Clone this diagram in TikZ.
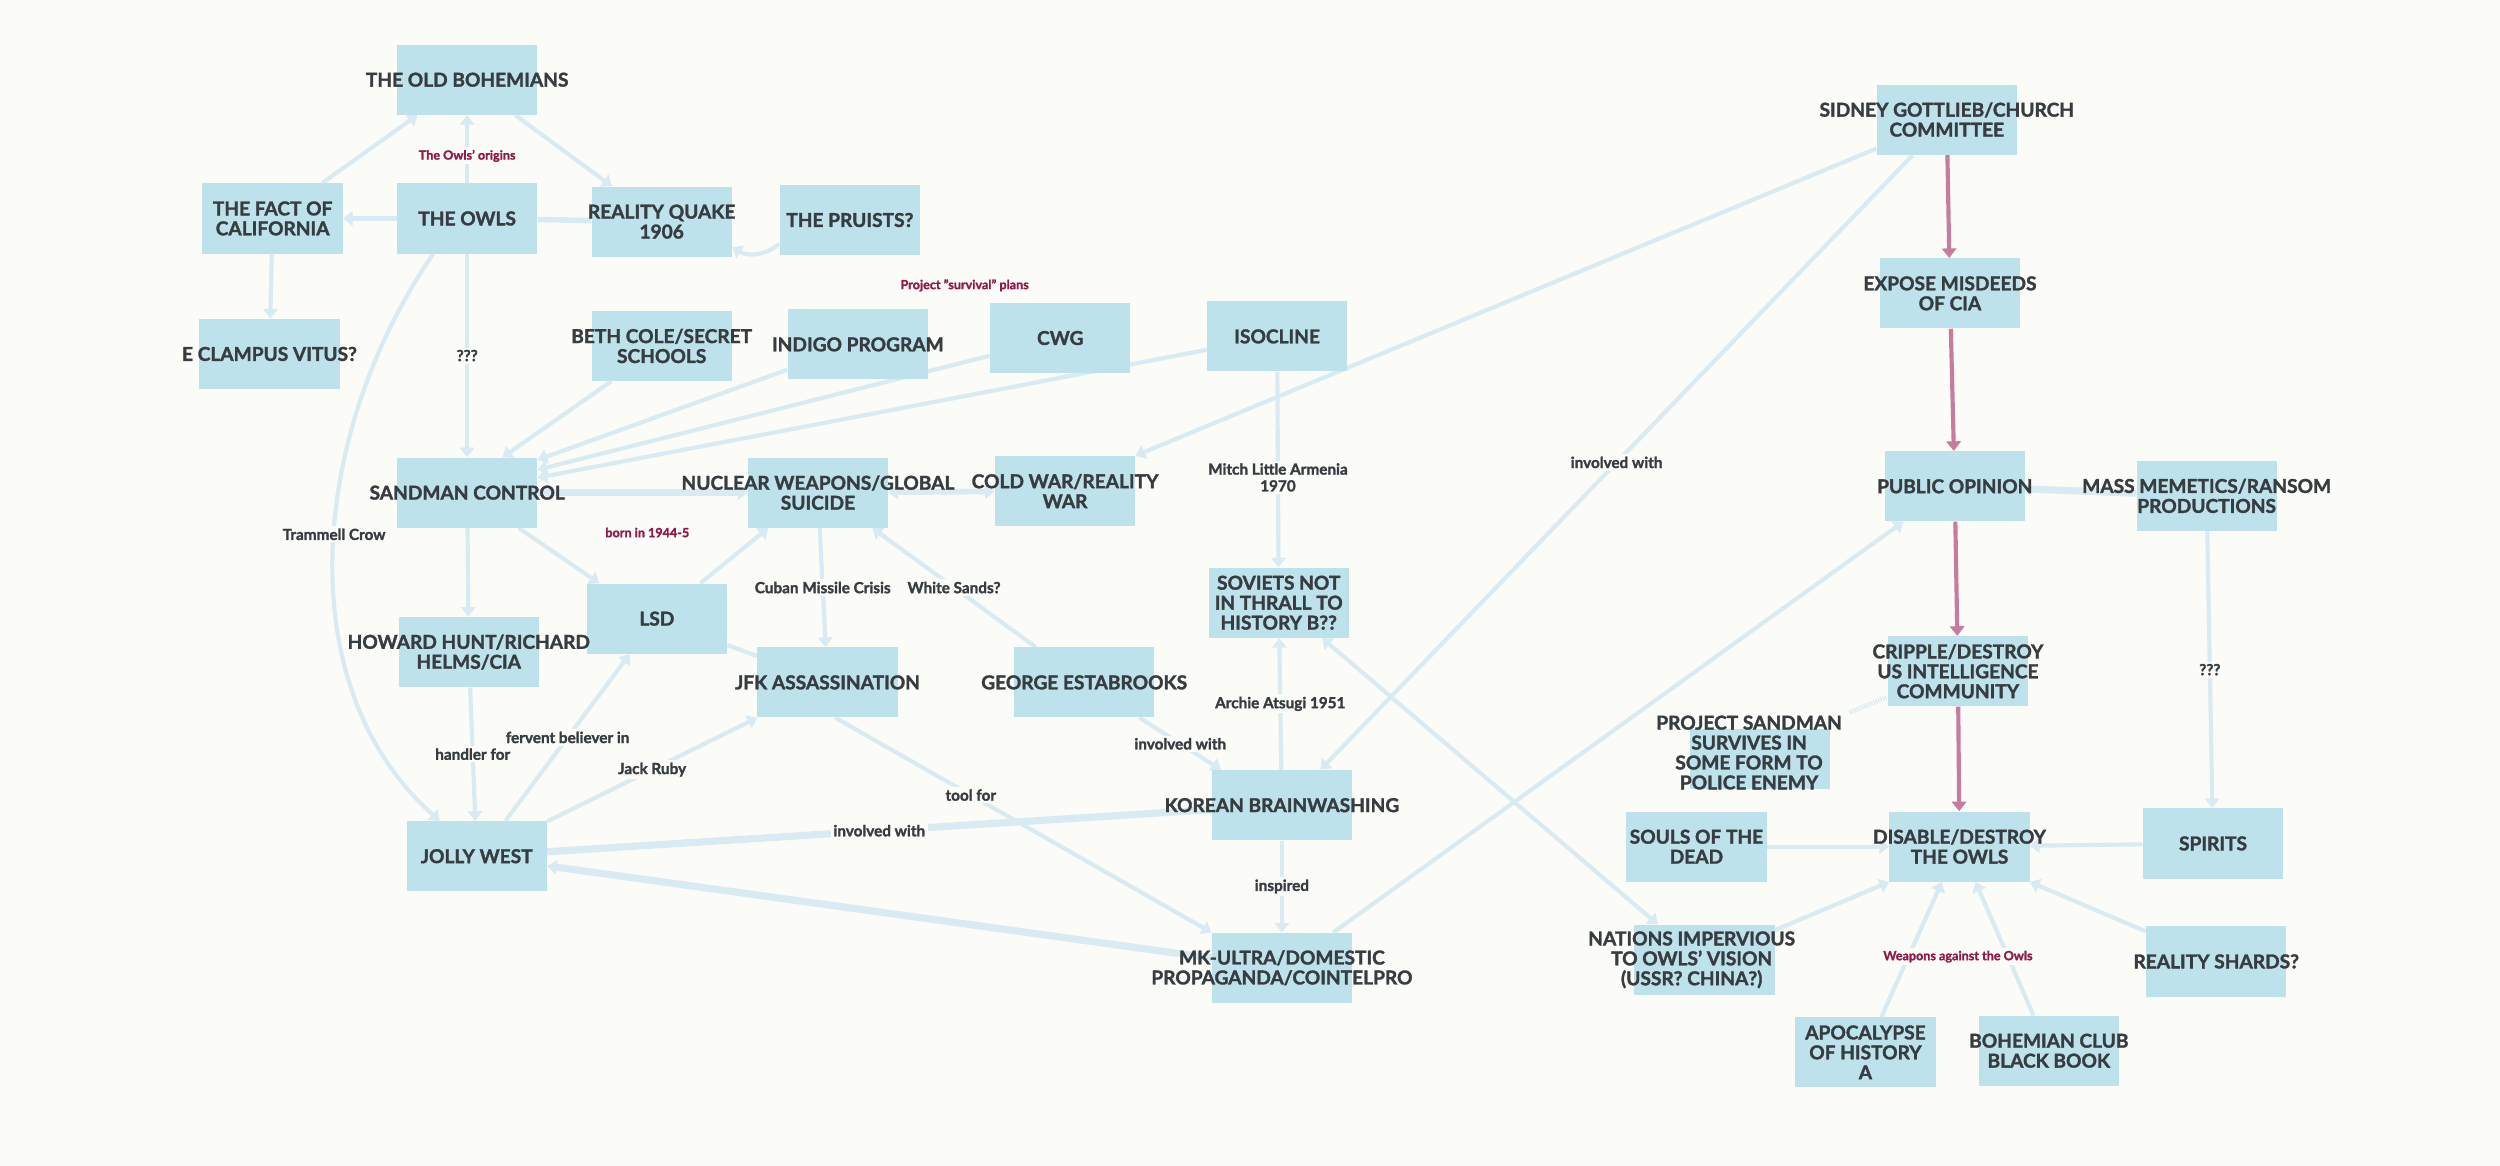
\documentclass[tikz,border=0pt]{standalone}
\usepackage{fontspec}
\setmainfont{Lato}[BoldFeatures={FakeBold=1.6}]
\usetikzlibrary{arrows.meta,backgrounds}
\definecolor{bgcol}{HTML}{FBFBF7}
\definecolor{boxcol}{HTML}{BEE2EC}
\definecolor{edgecol}{HTML}{D8EBF3}
\definecolor{ink}{HTML}{373C41}
\definecolor{pinkcol}{HTML}{C97B9E}
\definecolor{maroon}{HTML}{8E1B4B}

\begin{document}
\begin{tikzpicture}[x=1pt,y=-1pt,
  box/.style={fill=boxcol,minimum width=88pt,minimum height=44pt,inner sep=0pt},
  txt/.style={text=ink,align=center,inner sep=0pt,font=\bfseries\fontsize{12}{12.5}\selectfont},
  lbl/.style={fill=bgcol,text=ink,align=center,inner sep=1.5pt,font=\bfseries\fontsize{9.6}{10.5}\selectfont},
  note/.style={fill=bgcol,text=maroon,inner sep=1.5pt,font=\bfseries\fontsize{7.9}{9}\selectfont},
  line/.style={draw=edgecol,line width=2.6pt},
  edge/.style={line,-{Triangle[length=6pt,width=9pt]}},
  both/.style={line,{Triangle[length=6pt,width=9pt]}-{Triangle[length=6pt,width=9pt]}},
  thick line/.style={line,line width=4.5pt},
  thick edge/.style={edge,line width=4.5pt},
  pinkedge/.style={draw=pinkcol,line width=2.6pt,-{Triangle[length=6pt,width=9pt]}},
  hatch/.style={draw=edgecol,line width=3pt,dash pattern=on 0.8pt off 0.8pt}]

\begin{scope}[on background layer]
\fill[bgcol] (0,0) rectangle (1568,731);
\end{scope}

% left cluster
\node[box,label={[txt]center:THE OLD BOHEMIANS}] (bohemians) at (293,50) {};
\node[box,label={[txt]center:THE OWLS}] (owls) at (293,137) {};
\node[box,label={[txt]center:{THE FACT OF\\CALIFORNIA}}] (fact) at (171,137) {};
\node[box,label={[txt]center:{REALITY QUAKE\\1906}}] (quake) at (415,139) {};
\node[box,label={[txt]center:THE PRUISTS?}] (pruists) at (533,138) {};
\node[box,label={[txt]center:E CLAMPUS VITUS?}] (clampus) at (169,222) {};
\node[box,label={[txt]center:{BETH COLE/SECRET\\SCHOOLS}}] (beth) at (415,217) {};
\node[box,label={[txt]center:INDIGO PROGRAM}] (indigo) at (538,216) {};
\node[box,label={[txt]center:CWG}] (cwg) at (665,212) {};
\node[box,label={[txt]center:ISOCLINE}] (isocline) at (801,211) {};
\node[box,label={[txt]center:SANDMAN CONTROL}] (sandman) at (293,309) {};
\node[box,label={[txt]center:{NUCLEAR WEAPONS/GLOBAL\\SUICIDE}}] (nuclear) at (513,309) {};
\node[box,label={[txt]center:{COLD WAR/REALITY\\WAR}}] (coldwar) at (668,308) {};
\node[box,label={[txt]center:LSD}] (lsd) at (412,388) {};
\node[box,label={[txt]center:{HOWARD HUNT/RICHARD\\HELMS/CIA}}] (hunt) at (294,409) {};
\node[box,label={[txt]center:JFK ASSASSINATION}] (jfk) at (519,428) {};
\node[box,label={[txt]center:GEORGE ESTABROOKS}] (estabrooks) at (680,428) {};
\node[box,label={[txt]center:{SOVIETS NOT\\IN THRALL TO\\HISTORY B??}}] (soviets) at (802,378) {};
\node[box,label={[txt]center:KOREAN BRAINWASHING}] (korean) at (804,505) {};
\node[box,label={[txt]center:JOLLY WEST}] (jolly) at (299,537) {};
\node[box,label={[txt]center:{MK-ULTRA/DOMESTIC\\PROPAGANDA/COINTELPRO}}] (mkultra) at (804,607) {};

% right cluster
\node[box,label={[txt]center:{SIDNEY GOTTLIEB/CHURCH\\COMMITTEE}}] (gottlieb) at (1221,75) {};
\node[box,label={[txt]center:{EXPOSE MISDEEDS\\OF CIA}}] (expose) at (1223,184) {};
\node[box,label={[txt]center:PUBLIC OPINION}] (opinion) at (1226,305) {};
\node[box,label={[txt]center:{MASS MEMETICS/RANSOM\\PRODUCTIONS}}] (memetics) at (1384,311) {};
\node[box,label={[txt]center:{CRIPPLE/DESTROY\\US INTELLIGENCE\\COMMUNITY}}] (cripple) at (1228,421) {};
\node[box,minimum height=38pt,label={[txt,xshift=-7pt,yshift=4pt]center:{PROJECT SANDMAN\\SURVIVES IN\\SOME FORM TO\\POLICE ENEMY}}] (survives) at (1104,476) {};
\node[box,label={[txt]center:{SOULS OF THE\\DEAD}}] (souls) at (1064,531) {};
\node[box,label={[txt]center:{DISABLE/DESTROY\\THE OWLS}}] (disable) at (1229,531) {};
\node[box,label={[txt]center:SPIRITS}] (spirits) at (1388,529) {};
\node[box,label={[txt,xshift=-8pt]center:{NATIONS IMPERVIOUS\\TO OWLS' VISION\\(USSR? CHINA?)}}] (nations) at (1069,602) {};
\node[box,label={[txt]center:REALITY SHARDS?}] (shards) at (1390,603) {};
\node[box,label={[txt]center:{APOCALYPSE\\OF HISTORY\\A}}] (apocalypse) at (1170,660) {};
\node[box,label={[txt]center:{BOHEMIAN CLUB\\BLACK BOOK}}] (blackbook) at (1285,659) {};

% group notes
\node[note] (survival) at (605,179) {Project "survival" plans};
\node[note] (born) at (406,334) {born in 1944-5};
\node[note] (weapons) at (1228,600) {Weapons against the Owls};

\begin{scope}[on background layer]
\draw[edge] (owls) -- node[note,pos=0.4] (origins) {The Owls' origins} (bohemians);
\draw[edge] (fact) -- ([xshift=13pt]bohemians.south west);
\draw[edge] (bohemians) -- ([xshift=13pt]quake.north west);
\draw[edge] (owls) -- (fact);
\draw[line,line width=3.5pt] (owls) -- (quake);
\draw[edge] ([yshift=-15pt]pruists.west) to[bend left=35] ([yshift=-16pt]quake.east);
\draw[edge] (fact) -- (clampus);
\draw[edge] (owls) -- node[lbl] (q1) {???} (sandman);
\draw[edge] ([xshift=23pt]owls.south west) .. controls (195,270) and (180,430) .. node[lbl,pos=0.47] (trammell) {Trammell Crow} ([xshift=21pt]jolly.north west);
\draw[edge] (beth) -- (sandman.45);
\draw[edge] (indigo) -- (sandman.25);
\draw[edge] (cwg) -- (sandman.18);
\draw[edge] (isocline) -- (sandman.12);
\draw[edge] (gottlieb) -- (coldwar.north east);
\draw[edge] (gottlieb) -- node[lbl] (inv1) {involved with} ([xshift=-20pt]korean.north east);
\draw[edge] (isocline) -- node[lbl,pos=0.54] (mitch) {Mitch Little Armenia\\1970} (soviets);
\draw[thick edge] (sandman) -- (nuclear);
\draw[both,line width=3.5pt] (nuclear) -- (coldwar);
\draw[edge] (sandman) -- ([xshift=8pt]lsd.north west);
\draw[edge] (sandman) -- (hunt);
\draw[edge] (lsd) -- ([xshift=13pt]nuclear.south west);
\draw[edge] (nuclear) -- node[lbl] (cuban) {Cuban Missile Crisis} (jfk);
\draw[edge] (estabrooks) -- node[lbl] (sands) {White Sands?} ([xshift=-10pt]nuclear.south east);
\draw[line] (lsd) -- (jfk);
\draw[edge] (hunt) -- node[lbl] (handler) {handler for} (jolly);
\draw[edge] ([xshift=18pt]jolly.north) -- node[lbl] (fervent) {fervent believer in} ([xshift=-17pt]lsd.south);
\draw[edge] (jolly) -- node[lbl] (ruby) {Jack Ruby} (jfk.south west);
\draw[edge] ([xshift=5pt]jfk.south) -- node[lbl,pos=0.36] (toolfor) {tool for} (mkultra.north west);
\draw[edge] (estabrooks) -- node[lbl] (inv2) {involved with} ([xshift=6pt]korean.north west);
\draw[edge] (korean) -- node[lbl] (archie) {Archie Atsugi 1951} (soviets);
\draw[thick line] (jolly) -- node[lbl] (inv3) {involved with} (korean);
\draw[edge] (korean) -- node[lbl] (inspired) {inspired} (mkultra);
\draw[thick edge] (mkultra) -- (jolly);
\draw[edge] ([xshift=-12pt]mkultra.north east) -- ([xshift=12pt]opinion.south west);
\draw[both] ([xshift=-17pt]soviets.south east) -- ([xshift=15pt]nations.north west);
% owls countermeasures
\draw[pinkedge] (gottlieb) -- (expose);
\draw[pinkedge] (expose) -- (opinion);
\draw[pinkedge] (opinion) -- (cripple);
\draw[pinkedge] (cripple) -- (disable);
\draw[thick line] (opinion) -- (memetics);
\draw[edge] (memetics) -- node[lbl] (q2) {???} (spirits);
\draw[edge] (spirits) -- (disable);
\draw[edge] (souls) -- (disable);
\draw[edge] (nations) -- (disable.south west);
\draw[edge] (apocalypse) -- ([xshift=-11pt]disable.south);
\draw[edge] (blackbook) -- ([xshift=10pt]disable.south);
\draw[edge] (shards) -- (disable.south east);
\draw[hatch] ([xshift=12pt,yshift=10pt]survives.north east) -- ([yshift=6pt]cripple.south west);
\end{scope}
\end{tikzpicture}
\end{document}
